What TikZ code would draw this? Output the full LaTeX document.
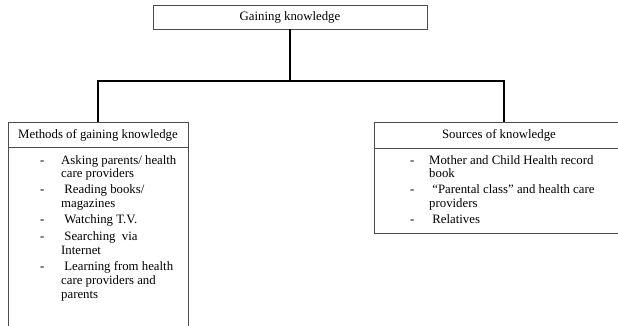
\documentclass[tikz,border=0pt]{standalone}
\usepackage{fontspec}
\setmainfont{Liberation Serif}
\begin{document}
\begin{tikzpicture}[x=1pt,y=1pt,
  box/.style={draw=black!70,line width=0.9pt,rectangle,inner sep=0pt},
  conn/.style={draw=black,line width=1.7pt},
  txt/.style={anchor=base west,inner sep=0pt,font=\fontsize{12.8}{14}\selectfont},
  ctxt/.style={anchor=base,inner sep=0pt,font=\fontsize{12.8}{14}\selectfont}]
\useasboundingbox (0,0) rectangle (618,-325);
\clip (0,0) rectangle (618,-325);

% root box
\node[box,minimum width=274pt,minimum height=24pt] (top) at (290,-17) {};
\node[ctxt] (toptext) at (290,-20.7) {Gaining knowledge};

% left branch
\node[box,minimum width=180pt,minimum height=25pt] (methods) at (98,-134.5) {};
\node[ctxt] (methodstext) at (98,-138.3) {Methods of gaining knowledge};
\node[box,minimum width=180pt,minimum height=200pt,anchor=north] (methodsbody) at (methods.south) {};

% right branch
\node[box,minimum width=250pt,minimum height=26pt] (sources) at (499,-135) {};
\node[ctxt] (sourcestext) at (499,-138.3) {Sources of knowledge};
\node[box,minimum width=250pt,minimum height=85pt,anchor=north] (sourcesbody) at (sources.south) {};
\coordinate (sourcesin) at (504,-122);

% connectors
\coordinate (bus) at (290,-81);
\draw[conn] (top.south) -- (top.south |- bus);
\draw[conn] (methods.north) -- (methods.north |- bus) -- (sourcesin |- bus) -- (sourcesin);

% list of methods
\node[txt] (m1d) at (40,-164.3) {-};
\node[txt] (m1a) at (61,-164.3) {Asking parents/ health};
\node[txt] (m1b) at (61,-177.2) {care providers};
\node[txt] (m2d) at (40,-193.3) {-};
\node[txt] (m2a) at (61,-193.3) {\ Reading books/};
\node[txt] (m2b) at (61,-207.7) {magazines};
\node[txt] (m3d) at (40,-223.3) {-};
\node[txt] (m3a) at (61,-223.3) {\ Watching T.V.};
\node[txt] (m4d) at (40,-240) {-};
\node[txt] (m4a) at (61,-240) {\ Searching\ \ via};
\node[txt] (m4b) at (61,-254) {Internet};
\node[txt] (m5d) at (40,-270) {-};
\node[txt] (m5a) at (61,-270) {\ Learning from health};
\node[txt] (m5b) at (61,-284.5) {care providers and};
\node[txt] (m5c) at (61,-298.5) {parents};

% list of sources
\node[txt] (s1d) at (410,-164.3) {-};
\node[txt] (s1a) at (429,-164.3) {Mother and Child Health record};
\node[txt] (s1b) at (429,-177.2) {book};
\node[txt] (s2d) at (410,-193.3) {-};
\node[txt] (s2a) at (429,-193.3) {\ “Parental class” and health care};
\node[txt] (s2b) at (429,-207.7) {providers};
\node[txt] (s3d) at (410,-223.3) {-};
\node[txt] (s3a) at (429,-223.3) {\ Relatives};
\end{tikzpicture}
\end{document}
